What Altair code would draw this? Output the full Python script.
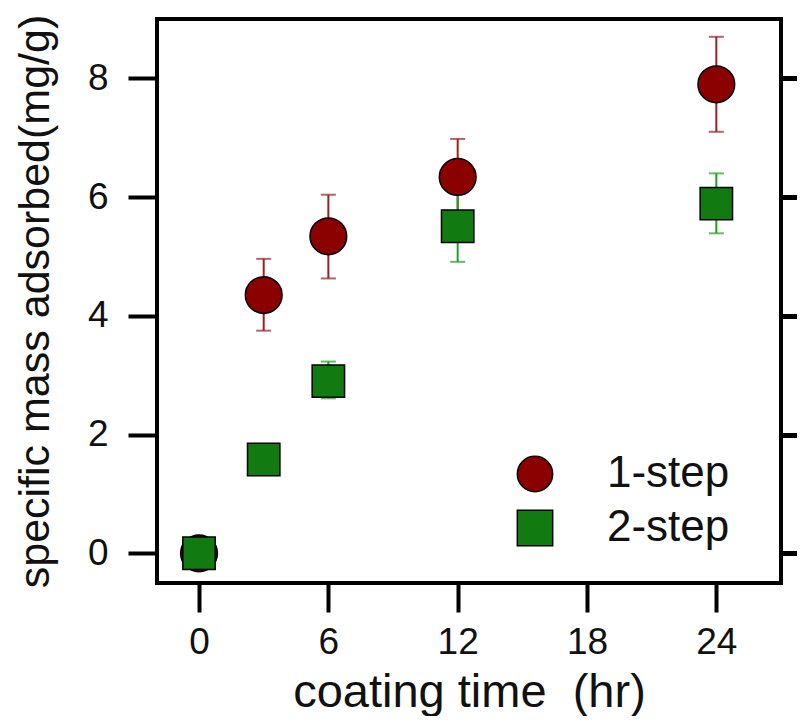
import altair as alt
import pandas as pd

# ---- data ----
series_names = ["1-step", "2-step"]

time_1 = [0, 3, 6, 12, 24]
mean_1 = [0.0, 4.35, 5.34, 6.34, 7.90]
low_1 = [0.0, 3.75, 4.63, 5.70, 7.10]
high_1 = [0.0, 4.96, 6.04, 6.98, 8.70]

time_2 = [0, 3, 6, 12, 24]
mean_2 = [0.0, 1.58, 2.90, 5.51, 5.89]
low_2 = [0.0, 1.58, 2.61, 4.91, 5.39]
high_2 = [0.0, 1.58, 3.23, 6.11, 6.40]

x_ticks = [0, 6, 12, 18, 24]
y_ticks = [0, 2, 4, 6, 8]

RED = "#8B0000"
GREEN = "#117A11"
RED_BAR = "#9B2020"
GREEN_BAR = "#22A022"
FONT = "Liberation Sans"

df1 = pd.DataFrame({"time": time_1, "mean": mean_1, "low": low_1, "high": high_1,
                    "series": series_names[0]})
df2 = pd.DataFrame({"time": time_2, "mean": mean_2, "low": low_2, "high": high_2,
                    "series": series_names[1]})
err1 = df1[df1["high"] > df1["low"]]
err2 = df2[df2["high"] > df2["low"]]

x_scale = alt.Scale(domain=[-1.95, 27.0], nice=False, zero=False)
y_scale = alt.Scale(domain=[-0.5, 9.0], nice=False, zero=False)

x_axis = alt.Axis(values=x_ticks, title="coating time\u00a0 (hr)", grid=False, domain=False,
                  tickSize=29, tickWidth=4, tickColor="black",
                  labelFontSize=37, labelPadding=12, labelColor="#111",
                  labelFont=FONT, titleFont=FONT, titleFontSize=47,
                  titleFontWeight="normal", titleColor="#111", titlePadding=9)
y_axis = alt.Axis(values=y_ticks, title="specific mass adsorbed(mg/g)", grid=False,
                  domain=False, tickSize=29, tickWidth=4, tickColor="black",
                  labelFontSize=37, labelPadding=20, labelColor="#111",
                  labelFont=FONT, titleFont=FONT, titleFontSize=43,
                  titleFontWeight="normal", titleColor="#111", titlePadding=30)
y_axis_right = alt.Axis(values=y_ticks, orient="right", title="", grid=False,
                        domain=False, labels=False, tickSize=21, tickWidth=4,
                        tickColor="black")

X = alt.X("time:Q", scale=x_scale, axis=x_axis)
Y = alt.Y("mean:Q", scale=y_scale, axis=y_axis)


def error_layers(err, color):
    rule = alt.Chart(err).mark_rule(color=color, strokeWidth=2).encode(
        x=X, y=alt.Y("low:Q", scale=y_scale, axis=y_axis), y2="high:Q")
    cap_lo = alt.Chart(err).mark_tick(color=color, orient="horizontal", size=15,
                                      thickness=2).encode(
        x=X, y=alt.Y("low:Q", scale=y_scale, axis=y_axis))
    cap_hi = alt.Chart(err).mark_tick(color=color, orient="horizontal", size=15,
                                      thickness=2).encode(
        x=X, y=alt.Y("high:Q", scale=y_scale, axis=y_axis))
    return [rule, cap_lo, cap_hi]


legend = alt.Legend(title=None, orient="none", legendX=356, legendY=433,
                    symbolSize=1250, labelFontSize=44, labelFont=FONT,
                    labelColor="#111", labelOffset=50, rowPadding=10,
                    padding=0, symbolStrokeColor="black", symbolStrokeWidth=1.5)
color_enc = alt.Color("series:N", scale=alt.Scale(domain=series_names, range=[RED, GREEN]),
                      legend=legend)
shape_enc = alt.Shape("series:N", scale=alt.Scale(domain=series_names, range=["circle", "square"]),
                      legend=legend)

pts1 = alt.Chart(df1).mark_point(filled=True, size=1350, stroke="black", strokeWidth=1.5,
                                 opacity=1).encode(x=X, y=Y, color=color_enc, shape=shape_enc)
pts2 = alt.Chart(df2).mark_point(filled=True, size=1050, stroke="black", strokeWidth=1.5,
                                 opacity=1).encode(x=X, y=Y, color=color_enc, shape=shape_enc)

right_axis = alt.Chart(df1).mark_point(opacity=0).encode(
    x=X, y=alt.Y("mean:Q", scale=y_scale, axis=y_axis_right))

chart = alt.layer(
    *error_layers(err1, RED_BAR), *error_layers(err2, GREEN_BAR), pts1, pts2, right_axis
).resolve_axis(y="independent").properties(
    width=624, height=564,
    autosize=alt.AutoSizeParams(type="none"),
    padding={"left": 149, "top": 11, "right": 16, "bottom": 133},
    background="white",
).configure_view(stroke="black", strokeWidth=4)

chart.save("out.html", embed_options={"renderer": "svg", "actions": False})
